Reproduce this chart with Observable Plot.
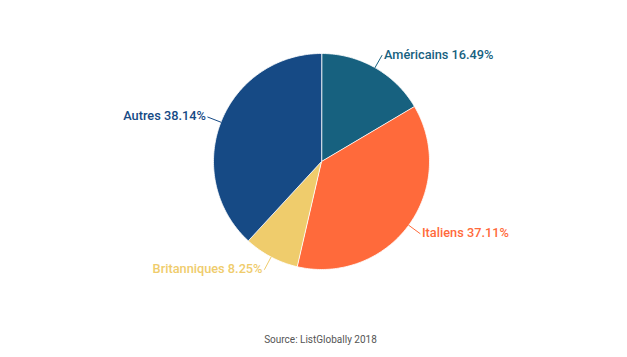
<!DOCTYPE html>
<html>
<head>
<meta charset="utf-8">
<script src="https://cdn.jsdelivr.net/npm/d3@7"></script>
<script src="https://cdn.jsdelivr.net/npm/@observablehq/plot@0.6"></script>
<style>
  html, body { margin: 0; padding: 0; background: #fff; }
  #chart { width: 627px; }
  #source { width: 627px; box-sizing: border-box; padding-left: 14px; text-align: center; font-family: Roboto, sans-serif; font-size: 10px; color: #555; margin-top: 9px; }
</style>
</head>
<body>
<div id="chart"></div>
<div id="source"></div>
<script>
const categories = ["Américains", "Italiens", "Britanniques", "Autres"];
const shares = [16.49, 37.11, 8.25, 38.14];
const colors = ["#17617f", "#ff6a3b", "#efcc6c", "#164a85"];
const sourceText = "Source: ListGlobally 2018";

const W = 627, H = 325, cx = 321, cy = 161, R = 108;

const data = categories.map((name, i) => ({name, share: shares[i]}));
const arcs = d3.pie().sort(null).value(d => d.share)(data);

// slice outlines derived from the pie layout
const slicePts = [];
for (const a of arcs) {
  const name = a.data.name;
  slicePts.push({name, x: 0, y: 0});
  const n = Math.max(2, Math.ceil((a.endAngle - a.startAngle) / (Math.PI / 180)));
  for (let k = 0; k <= n; k++) {
    const t = a.startAngle + (a.endAngle - a.startAngle) * k / n;
    slicePts.push({name, x: Math.sin(t), y: Math.cos(t)});
  }
}

// labels and leader lines
const leaderPts = [];
const labels = [];
for (const a of arcs) {
  const name = a.data.name;
  const m = (a.startAngle + a.endAngle) / 2;
  const sx = Math.sin(m), sy = Math.cos(m);
  const r2 = 1.13;
  leaderPts.push({name, x: sx, y: sy});
  leaderPts.push({name, x: sx * r2, y: sy * r2});
  labels.push({name, x: sx * r2, y: sy * r2, right: sx >= 0,
    text: `${name} ${a.data.share.toFixed(2)}%`});
}

const chart = Plot.plot({
  width: W,
  height: H,
  margin: 0,
  x: {domain: [-cx / R, (W - cx) / R], range: [0, W], axis: null},
  y: {domain: [-(H - cy) / R, cy / R], range: [H, 0], axis: null},
  color: {domain: categories, range: colors},
  style: {fontFamily: "Roboto, sans-serif", background: "#fff"},
  marks: [
    Plot.line(slicePts, {x: "x", y: "y", z: "name", fill: "name", stroke: "#ffffff",
      strokeWidth: 1, strokeOpacity: 0.8, curve: "linear-closed"}),
    Plot.line(leaderPts, {x: "x", y: "y", z: "name", stroke: "name", strokeWidth: 1}),
    Plot.text(labels.filter(d => d.right), {x: "x", y: "y", text: "text", fill: "name",
      textAnchor: "start", dx: 2, dy: -1, fontSize: 12.75, fontWeight: 500}),
    Plot.text(labels.filter(d => !d.right), {x: "x", y: "y", text: "text", fill: "name",
      textAnchor: "end", dx: -2, dy: -1, fontSize: 12.75, fontWeight: 500})
  ]
});
document.getElementById("chart").append(chart);
document.getElementById("source").textContent = sourceText;
</script>
</body>
</html>
